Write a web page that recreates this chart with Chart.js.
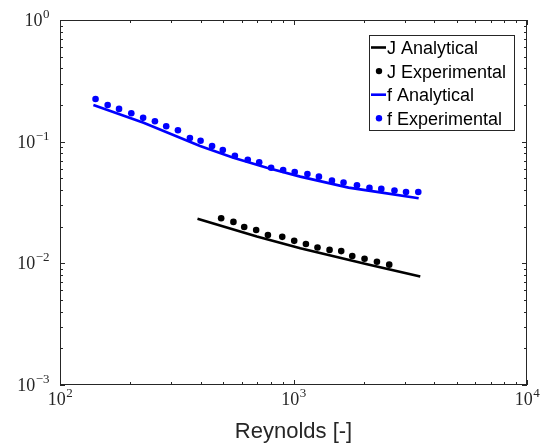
<!DOCTYPE html>
<html>
<head>
<meta charset="utf-8">
<script src="https://cdn.jsdelivr.net/npm/chart.js@4"></script>
<style>
  body{margin:0;background:#fff;}
  canvas{display:block;}
</style>
</head>
<body>
<canvas id="chart" width="542" height="445"></canvas>
<script>
// values (Reynolds number vs J / f)
const jAnaRe=[388,697,1069,2066,3491];
const jAna=[0.0232,0.0166,0.0133,0.00984,0.00778];

const jExpRe=[490,553,615,692,777,895,1007,1130,1267,1427,1601,1785,2015,2277,2570];
const jExp=[0.0235,0.0219,0.0199,0.0188,0.0171,0.0165,0.0153,0.0144,0.0135,0.0129,0.0126,0.0115,0.0109,0.0103,0.00975];

const fAnaRe=[139,228,398,553,769,1069,1721,2393,3436];
const fAna=[0.200,0.143,0.0922,0.0739,0.0611,0.0516,0.0419,0.0381,0.0343];

const fExpRe=[142,160,179,202,227,255,285,320,360,400,448,498,561,637,713,802,903,1012,1147,1285,1461,1638,1870,2115,2377,2707,3033,3423];
const fExp=[0.224,0.200,0.186,0.171,0.157,0.147,0.134,0.124,0.107,0.1017,0.0922,0.0855,0.0767,0.0711,0.0677,0.0611,0.0585,0.0563,0.0543,0.0516,0.0478,0.0461,0.0438,0.0417,0.0409,0.0396,0.0386,0.0386];

const xTicks=[100,1000,10000];   // shown as 10^2, 10^3, 10^4
const yTicks=[0.001,0.01,0.1,1]; // 10^-3 ... 10^0
const xTitle="Reynolds [-]";

function pts(xs,ys){return xs.map((v,i)=>({x:v,y:ys[i]}));}

const axisCol='#262626';
const serif='"Liberation Serif","Times New Roman",serif';
const sans='"Liberation Sans",Arial,sans-serif';

function powLabel(ctx,exp,px,py,mode){
    ctx.font='18px '+serif;
    const w1=ctx.measureText('10').width;
    const e=String(exp).replace('-','\u2212');
    ctx.font='13px '+serif;
    const w2=ctx.measureText(e).width;
    let x0,base;
    if(mode==='x'){x0=px-(w1+w2)/2; base=405;}
    else{x0=49-(w1+w2); base=py+6;}
    ctx.textAlign='left';
    ctx.textBaseline='alphabetic';
    ctx.font='18px '+serif;
    ctx.fillText('10',x0,base);
    ctx.font='13px '+serif;
    ctx.fillText(e,x0+w1+0.5,base-8);
}

const frame={
    id:'frame',
    afterDraw(chart){
        const {ctx,chartArea:a,scales:{x,y}}=chart;
        ctx.save();
        ctx.strokeStyle=axisCol;
        ctx.fillStyle=axisCol;
        ctx.lineWidth=1;
        ctx.strokeRect(a.left+0.5,a.top+0.5,a.right-a.left-1,a.bottom-a.top-1);
        ctx.beginPath();
        // x ticks, bottom and top, pointing inward
        [100,1000].forEach(d=>{
            for(let k=1;k<=10;k++){
                const v=k*d;
                if(k===10 && d===100) continue;
                const p=Math.round(x.getPixelForValue(v))+0.5;
                const len=(k===1||k===10)?5:3;
                ctx.moveTo(p,a.bottom);ctx.lineTo(p,a.bottom-len);
                ctx.moveTo(p,a.top);ctx.lineTo(p,a.top+len);
            }
        });
        [0.001,0.01,0.1].forEach(d=>{
            for(let k=1;k<=10;k++){
                const v=k*d;
                if(k===10 && d!==0.1) continue;
                const p=Math.round(y.getPixelForValue(v))+0.5;
                const len=(k===1||k===10)?5:3;
                ctx.moveTo(a.left,p);ctx.lineTo(a.left+len,p);
                ctx.moveTo(a.right,p);ctx.lineTo(a.right-len,p);
            }
        });
        ctx.stroke();

        // tick labels
        ctx.fillStyle=axisCol;
        xTicks.forEach(v=>powLabel(ctx,Math.round(Math.log10(v)),x.getPixelForValue(v),0,'x'));
        yTicks.forEach(v=>powLabel(ctx,Math.round(Math.log10(v)),0,y.getPixelForValue(v),'y'));

        // axis title
        ctx.font='22px '+sans;
        ctx.textAlign='center';
        ctx.fillText(xTitle,(a.left+a.right)/2,438);

        // legend box
        const lx=a.right-158, ly=a.top+14.5, lw=145, lh=95;
        ctx.fillStyle='#fff';
        ctx.fillRect(lx,ly,lw,lh);
        ctx.strokeStyle=axisCol;
        ctx.strokeRect(Math.round(lx)+0.5,Math.round(ly)+0.5,lw,lh);
        ctx.font='18px '+sans;
        ctx.textAlign='left';
        chart.data.datasets.forEach((ds,i)=>{
            const cy=ly+13+i*23.6;
            if(ds.showLine){
                ctx.strokeStyle=ds.borderColor;
                ctx.lineWidth=2.6;
                ctx.beginPath();ctx.moveTo(lx+2,cy);ctx.lineTo(lx+17,cy);ctx.stroke();
            }else{
                ctx.fillStyle=ds.backgroundColor;
                ctx.beginPath();ctx.arc(lx+10,cy,3.2,0,Math.PI*2);ctx.fill();
            }
            ctx.fillStyle='#000';
            ctx.fillText(ds.label,lx+18,cy+6.5);
        });
        ctx.restore();
    }
};

new Chart(document.getElementById('chart'),{
    type:'scatter',
    data:{datasets:[
        {label:'J Analytical',data:pts(jAnaRe,jAna),showLine:true,borderColor:'#000',backgroundColor:'#000',borderWidth:2.6,pointRadius:0,tension:0},
        {label:'J Experimental',data:pts(jExpRe,jExp),showLine:false,borderColor:'#000',backgroundColor:'#000',borderWidth:0,pointRadius:3.3},
        {label:'f Analytical',data:pts(fAnaRe,fAna),showLine:true,borderColor:'#0000ff',backgroundColor:'#0000ff',borderWidth:2.6,pointRadius:0,tension:0},
        {label:'f Experimental',data:pts(fExpRe,fExp),showLine:false,borderColor:'#0000ff',backgroundColor:'#0000ff',borderWidth:0,pointRadius:3.3}
    ]},
    options:{
        responsive:false,
        animation:false,
        layout:{padding:{left:60,right:15,top:20,bottom:60}},
        plugins:{legend:{display:false},tooltip:{enabled:false}},
        scales:{
            x:{type:'logarithmic',min:100,max:10000,display:false},
            y:{type:'logarithmic',min:0.001,max:1,display:false}
        }
    },
    plugins:[frame]
});
</script>
</body>
</html>
